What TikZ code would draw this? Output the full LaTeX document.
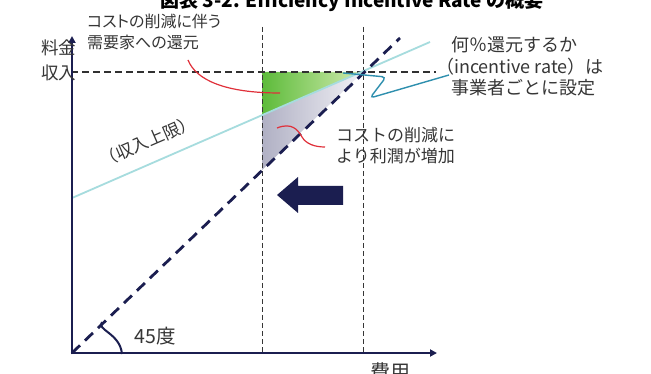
\documentclass[tikz,border=0pt]{standalone}
\usepackage{fontspec}
\setmainfont{Noto Sans CJK JP}
\newfontfamily\paltfont{Noto Sans CJK JP}[RawFeature=+palt]
\usetikzlibrary{arrows.meta}
\definecolor{navy}{HTML}{1B1E50}
\definecolor{capline}{HTML}{A6DCDE}
\definecolor{teal}{HTML}{2E8FAE}
\definecolor{redl}{HTML}{E0303A}
\definecolor{txt}{HTML}{363636}
\definecolor{grnA}{HTML}{5DBB3A}
\definecolor{grnB}{HTML}{D2ECB0}
\definecolor{gryA}{HTML}{B0B0C4}
\definecolor{gryB}{HTML}{F2F2F6}
\tikzset{
  lbl/.style={inner sep=0pt, text=txt, anchor=west, font=\fontsize{17}{20}\selectfont},
  lblb/.style={lbl, font=\fontsize{18}{21}\selectfont},
  lblp/.style={lbl, font=\paltfont\fontsize{16}{20}\selectfont},
  axis/.style={navy, line width=2.6pt, -{Triangle[length=7pt,width=7pt]}},
  vdash/.style={txt, line width=1pt, dash pattern=on 5pt off 3pt},
  hdash/.style={txt!90!black, line width=2pt, dash pattern=on 7pt off 4pt},
  diag/.style={navy, line width=2.8pt, dash pattern=on 11pt off 7pt},
  callred/.style={redl, line width=1.2pt},
}
\begin{document}
\begin{tikzpicture}[x=1pt,y=-1pt]
\useasboundingbox (0,0) rectangle (651,374);
\clip (0,0) rectangle (651,374);
\fill[white] (0,0) rectangle (651,374);
% title (cut off at top)
\node[inner sep=0pt, text=black, font=\fontsize{19}{21}\selectfont\bfseries, anchor=base] (title) at (352,8) {図表 3-2. Efficiency Incentive Rate の概要};
% coordinates
\coordinate (O) at (72,353);
\coordinate (X) at (71,72);
\coordinate (P) at (363,72);
\coordinate (Lh) at (262,72);
\coordinate (Lc) at (262,115);
\coordinate (Ld) at (262,170);
% fills
\shade[left color=grnA, right color=grnB] (Lh) -- (P) -- (Lc) -- cycle;
\shade[left color=gryA, right color=gryB] (Lc) -- (P) -- (Ld) -- cycle;
% vertical dashed lines
\coordinate (v1t) at (262,27);
\coordinate (v1b) at (262,353);
\coordinate (v2t) at (363,27);
\coordinate (v2b) at (363,353);
\draw[vdash] (v1t) -- (v1b);
\draw[vdash] (v2t) -- (v2b);
% horizontal dashed
\coordinate (hE) at (436,72);
\draw[hdash] (X) -- (hE);
% cap line
\coordinate (c0) at (72,198);
\coordinate (c1) at (430,42);
\draw[capline, line width=1.8pt] (c0) -- (c1);
% diagonal
\coordinate (d1) at (400,38);
\draw[diag] (O) -- (d1);
% axes
\coordinate (yT) at (72,36);
\coordinate (xT) at (437,353);
\draw[axis] (72,354.3) -- (yT);
\draw[axis] (70.7,353) -- (xT);
% angle arc
\draw[navy, line width=2pt] (102,322) .. controls (96,330) and (120,333) .. (122,354);
% left arrow
\fill[navy] (277,195) -- (298,177) -- (298,186) -- (343,186) -- (343,205) -- (298,205) -- (298,213) -- cycle;
% red callouts
\draw[callred] (188,60) .. controls (196,80) and (225,93) .. (280,93);
\draw[callred] (277,128) .. controls (292,122) and (298,130) .. (302,137) .. controls (306,144) and (315,147) .. (325,147);
% teal callout
\draw[teal, line width=1.4pt, rounded corners=4pt] (343,73) -- (386,77) -- (370,98) -- (449,75);
% labels
\node[lbl, font=\fontsize{17.5}{20}\selectfont] (ylab1) at (41,48) {料金};
\node[lbl, font=\fontsize{17.5}{20}\selectfont] (ylab2) at (41,73) {収入};
\node[lblp] (ret1) at (87,21) {コストの削減に伴う};
\node[lblp] (ret2) at (87,42) {需要家への還元};
\node[lblb] (rate1) at (451,45) {何％還元するか};
\node[lblb] (rate2) at (436,67) {（incentive rate）は};
\node[lblb] (rate3) at (451,88) {事業者ごとに設定};
\node[lbl] (prof1) at (336,135) {コストの削減に};
\node[lbl] (prof2) at (336,156) {より利潤が増加};
\node[lbl, anchor=center, rotate=23.5] (capl) at (148,141) {（収入上限）};
\node[lbl, anchor=center, font=\fontsize{19.5}{22}\selectfont] (deg) at (155,336) {45度};
\node[lbl, anchor=center, font=\fontsize{20}{22}\selectfont] (xlab) at (390,372) {費用};
\end{tikzpicture}
\end{document}
